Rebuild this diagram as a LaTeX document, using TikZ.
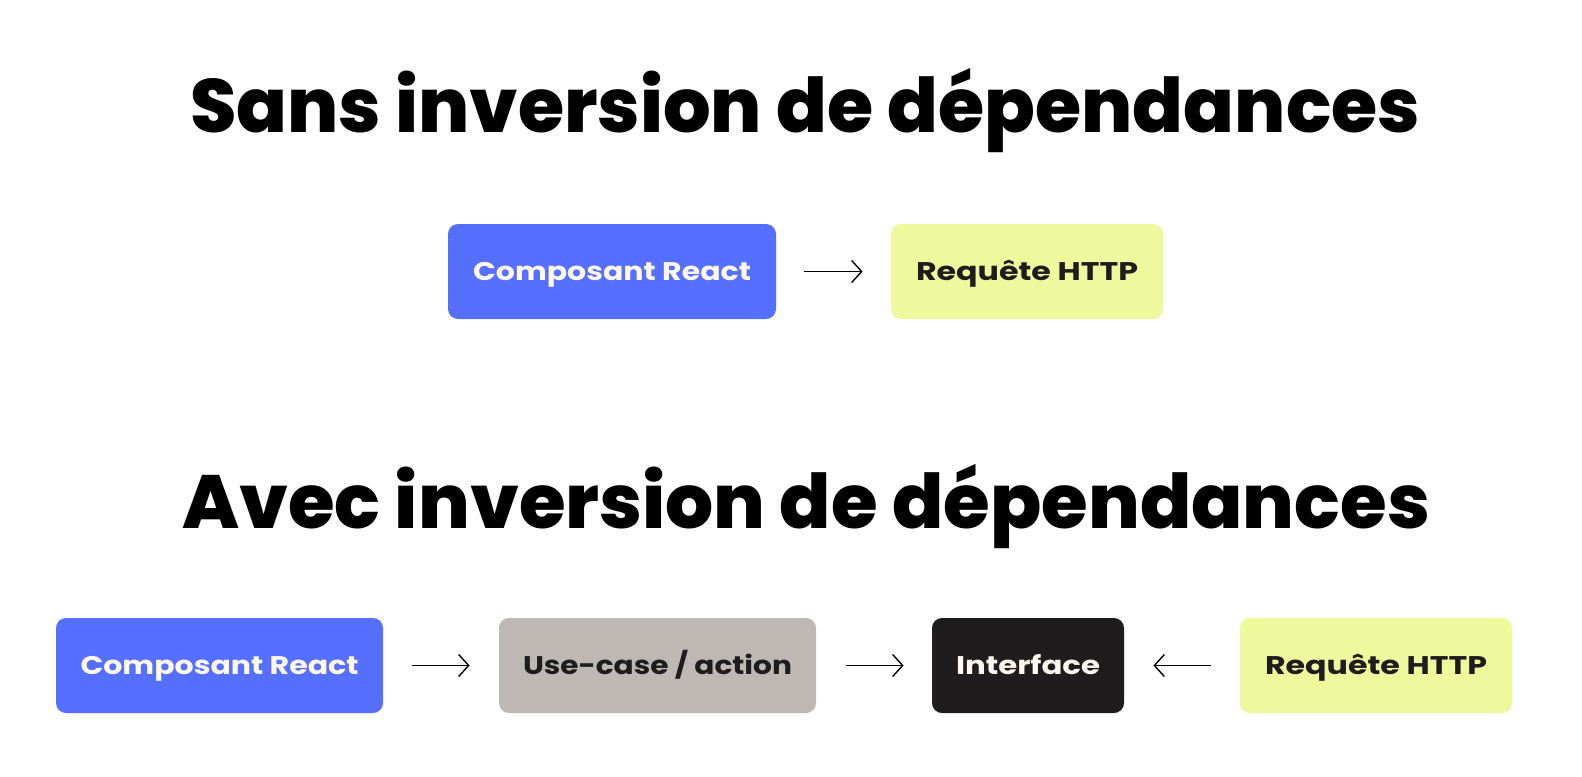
\documentclass[tikz,border=0pt]{standalone}
\usepackage{graphicx}
\usepackage{fontspec}
\setmainfont{Poppins}
\newfontfamily\titlefont{Poppins ExtraBold}
\usetikzlibrary{arrows.meta}
\definecolor{cblue}{HTML}{5570FF}
\definecolor{cyel}{HTML}{EEF89C}
\definecolor{cgray}{HTML}{BDB8B4}
\definecolor{cblack}{HTML}{1E1C1D}
\definecolor{cwhite}{HTML}{FFF8F0}
% #1 target width, #2 target cap height, #3 text
\newcommand\fittext[3]{%
  \setbox0=\hbox{#3}%
  \dimen2=\fontcharht\font`\H\relax
  \pgfmathsetmacro\fitsx{#1/\the\wd0}%
  \pgfmathsetmacro\fitsy{#2/\the\dimen2}%
  \scalebox{\fitsx}[\fitsy]{\box0}}
\tikzset{
  box/.style={rounded corners=5pt, inner sep=0pt, text height=9pt, text depth=0pt,
    minimum height=47.5pt, font=\fontsize{15}{18}\selectfont\bfseries},
  title/.style={inner sep=0pt, anchor=base, text=black, font=\fontsize{40}{48}\selectfont\titlefont},
  arr/.style={line width=0.7pt, -{Straight Barb[length=5pt,width=11pt,line width=0.7pt]}},
}
\begin{document}
\begin{tikzpicture}[x=0.5pt,y=-0.5pt]
\useasboundingbox (0,0) rectangle (1582,776);
\fill[white] (0,0) rectangle (1582,776);
\node[title] (t1) at (805,132) {\fittext{615pt}{26.75pt}{Sans inversion de dépendances}};
\node[title] (t2) at (806,528) {\fittext{624pt}{26.75pt}{Avec inversion de dépendances}};
% top row
\node[box, fill=cblue, text=cwhite, minimum width=164pt] (a1) at (612,271.5) {\fittext{139pt}{9pt}{Composant React}};
\node[box, fill=cyel, text=cblack, minimum width=136pt] (b1) at (1027,271.5) {\fittext{111pt}{9pt}{Requête HTTP}};
% bottom row
\node[box, fill=cblue, text=cwhite, minimum width=163.5pt] (a2) at (219.5,665.5) {\fittext{139pt}{9pt}{Composant React}};
\node[box, fill=cgray, text=cblack, minimum width=158.5pt] (u2) at (657.5,665.5) {\fittext{134.5pt}{9pt}{Use-case / action}};
\node[box, fill=cblack, text=cwhite, minimum width=96pt] (i2) at (1028,665.5) {\fittext{72pt}{9pt}{Interface}};
\node[box, fill=cyel, text=cblack, minimum width=136pt] (b2) at (1376,665.5) {\fittext{111pt}{9pt}{Requête HTTP}};
\draw[arr] ([xshift=14pt]a1.east) -- ([xshift=-14pt]b1.west);
\draw[arr] ([xshift=14.5pt]a2.east) -- ([xshift=-14.5pt]u2.west);
\draw[arr] ([xshift=15pt]u2.east) -- ([xshift=-14pt]i2.west);
\draw[arr] ([xshift=-14.5pt]b2.west) -- ([xshift=14.5pt]i2.east);
\end{tikzpicture}
\end{document}
